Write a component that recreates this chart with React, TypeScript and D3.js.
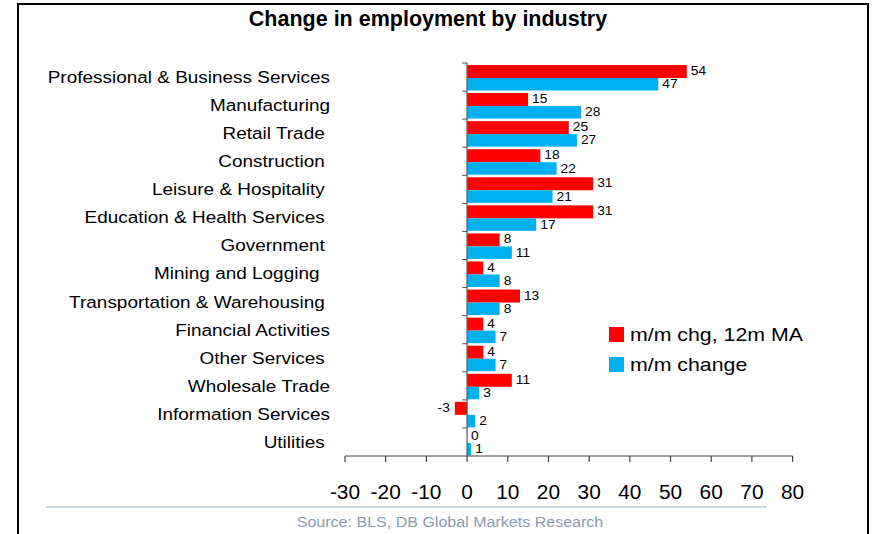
import React from "react";
import * as d3 from "d3";

const categories = [
  "Professional & Business Services",
  "Manufacturing",
  "Retail Trade ",
  "Construction ",
  "Leisure & Hospitality ",
  "Education & Health Services ",
  "Government ",
  "Mining and Logging  ",
  "Transportation & Warehousing ",
  "Financial Activities",
  "Other Services ",
  "Wholesale Trade",
  "Information Services",
  "Utilities ",
];
const maValues = [54, 15, 25, 18, 31, 31, 8, 4, 13, 4, 4, 11, -3, 0];
const mmValues = [47, 28, 27, 22, 21, 17, 11, 8, 8, 7, 7, 3, 2, 1];
const xTicks = [-30, -20, -10, 0, 10, 20, 30, 40, 50, 60, 70, 80];
const seriesNames = ["m/m chg, 12m MA", "m/m change"];
const title = "Change in employment by industry";
const source = "Source: BLS, DB Global Markets Research";

const RED = "#ff0000";
const BLUE = "#00b0f0";
const FONT = "Arial, 'Liberation Sans', sans-serif";

function SText(props: {
  x: number;
  y: number;
  sx?: number;
  anchor?: "start" | "middle" | "end";
  size: number;
  fill?: string;
  weight?: string;
  dy?: string;
  children: React.ReactNode;
}) {
  const { x, y, sx = 1, anchor = "start", size, fill = "#000", weight, dy, children } = props;
  return (
    <text
      transform={`translate(${x},${y}) scale(${sx},1)`}
      textAnchor={anchor}
      fontSize={size}
      fill={fill}
      fontWeight={weight}
      dy={dy}
      style={{ whiteSpace: "pre" }}
    >
      {children}
    </text>
  );
}

export default function App() {
  const W = 872, H = 534;
  const x = d3.scaleLinear().domain([-30, 80]).range([345, 792.6]);
  const y = d3.scaleBand<string>().domain(categories).range([63, 456]).padding(0);
  const step = y.step();
  const x0 = x(0);
  const axisY = 456;

  return (
    <div style={{ position: "absolute", left: 0, top: 0 }}>
      <svg width={W} height={H} style={{ display: "block", fontFamily: FONT }}>
        <rect x={0} y={0} width={W} height={H} fill="#fff" />
        <rect x={18} y={4} width={850} height={560} fill="none" stroke="#000" strokeWidth={2} />
        <SText x={428} y={26} anchor="middle" size={21.5} weight="bold">
          {title}
        </SText>

        {/* category labels */}
        {categories.map((c) => (
          <SText key={c} x={330} y={(y(c) as number) + step / 2} dy="0.35em" anchor="end" size={17} sx={1.115}>
            {c}
          </SText>
        ))}

        {/* bars */}
        {categories.map((c, i) => {
          const top = y(c) as number;
          const v1 = maValues[i];
          const v2 = mmValues[i];
          const r1y = top + 2, r1h = 13;
          const r2y = top + 15, r2h = 12.5;
          return (
            <g key={"b" + i}>
              <rect x={Math.min(x(v1), x0)} y={r1y} width={Math.abs(x(v1) - x0)} height={r1h} fill={RED} />
              <rect x={Math.min(x(v2), x0)} y={r2y} width={Math.abs(x(v2) - x0)} height={r2h} fill={BLUE} />
              <SText
                x={v1 < 0 ? x(v1) - 5 : x(v1) + 4}
                y={r1y + r1h / 2 - 1}
                dy="0.35em"
                anchor={v1 < 0 ? "end" : "start"}
                size={13}
                sx={1.06}
              >
                {v1}
              </SText>
              <SText
                x={v2 < 0 ? x(v2) - 5 : x(v2) + 4}
                y={r2y + r2h / 2 - 0.5}
                dy="0.35em"
                anchor={v2 < 0 ? "end" : "start"}
                size={13}
                sx={1.06}
              >
                {v2}
              </SText>
            </g>
          );
        })}

        {/* y axis line and category ticks */}
        <line x1={x0} x2={x0} y1={63} y2={axisY} stroke="#555" strokeWidth={1.2} />
        {categories.map((c) => (
          <line
            key={"t" + c}
            x1={x0 - 5}
            x2={x0}
            y1={y(c) as number}
            y2={y(c) as number}
            stroke="#555"
            strokeWidth={1}
          />
        ))}

        {/* x axis */}
        <line x1={x(-30)} x2={x(80)} y1={axisY} y2={axisY} stroke="#444" strokeWidth={1.2} />
        {xTicks.map((t) => (
          <g key={"x" + t}>
            <line x1={x(t)} x2={x(t)} y1={axisY} y2={axisY + 6} stroke="#444" strokeWidth={1.2} />
            <SText x={x(t)} y={499} anchor="middle" size={19.5} sx={1.07}>
              {t}
            </SText>
          </g>
        ))}

        {/* legend */}
        <rect x={609} y={327} width={15} height={15} fill={RED} />
        <SText x={630} y={341} size={18} sx={1.185}>{seriesNames[0]}</SText>
        <rect x={609} y={357} width={15} height={15} fill={BLUE} />
        <SText x={630} y={371} size={18} sx={1.185}>{seriesNames[1]}</SText>

        {/* source */}
        <line x1={46} x2={767} y1={507} y2={507} stroke="#cdd7e0" strokeWidth={2} />
        <SText x={450} y={527} anchor="middle" size={15} sx={1.07} fill="#8a9bb0">
          {source}
        </SText>
      </svg>
    </div>
  );
}
